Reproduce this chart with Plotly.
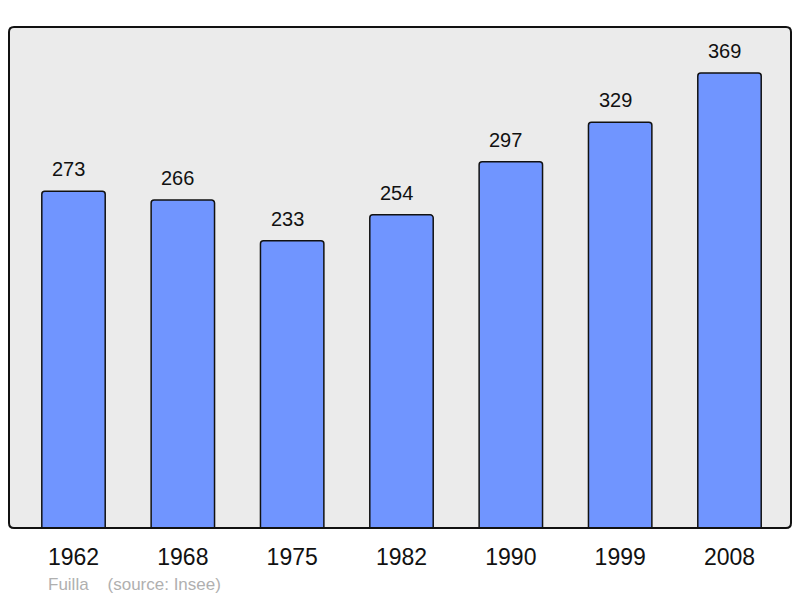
import plotly.graph_objects as go

years = ["1962", "1968", "1975", "1982", "1990", "1999", "2008"]
population = [273, 266, 233, 254, 297, 329, 369]

xpos = list(range(len(years)))

fig = go.Figure()
fig.add_trace(go.Bar(
    x=xpos, y=population, width=0.58,
    marker=dict(color="#7095FF", line=dict(color="#111111", width=1.5), cornerradius=3),
    hoverinfo="skip",
))

for xi, v in zip(xpos, population):
    fig.add_annotation(x=xi, y=v, text=str(v), showarrow=False, yanchor="middle",
                       yshift=22, xshift=-5,
                       font=dict(family="Liberation Sans, Arial", size=20, color="#111111"))

W, H = 782.0, 501.0
r = 5.0
rx, ry = r / W, r / H
path = (f"M {rx},0 L {1-rx},0 Q 1,0 1,{ry} L 1,{1-ry} Q 1,1 {1-rx},1 "
        f"L {rx},1 Q 0,1 0,{1-ry} L 0,{ry} Q 0,0 {rx},0 Z")
fig.add_shape(type="path", xref="paper", yref="paper", path=path,
              line=dict(color="#111111", width=2), layer="above")

fig.add_annotation(xref="paper", yref="paper", x=(46 - 9) / W, y=-(584 - 528) / H,
                   xanchor="left", yanchor="middle", showarrow=False,
                   text="Fuilla&nbsp;&nbsp;&nbsp;&nbsp;(source: Insee)",
                   font=dict(family="Liberation Sans, Arial", size=17, color="#B0B0B0"))

fig.update_layout(
    width=784, height=590,
    margin=dict(l=1, r=1, t=19, b=70),
    paper_bgcolor="white", plot_bgcolor="#EBEBEB",
    showlegend=False,
    xaxis=dict(range=[-0.59, 6.5625], tickmode="array", tickvals=xpos, ticktext=years,
               showgrid=False, zeroline=False, ticks="outside", ticklen=8,
               tickcolor="rgba(0,0,0,0)",
               tickfont=dict(family="Liberation Sans, Arial", size=23, color="#111111")),
    yaxis=dict(range=[0, 406.3], showgrid=False, zeroline=False, showticklabels=False),
)

fig.write_html("out.html")
